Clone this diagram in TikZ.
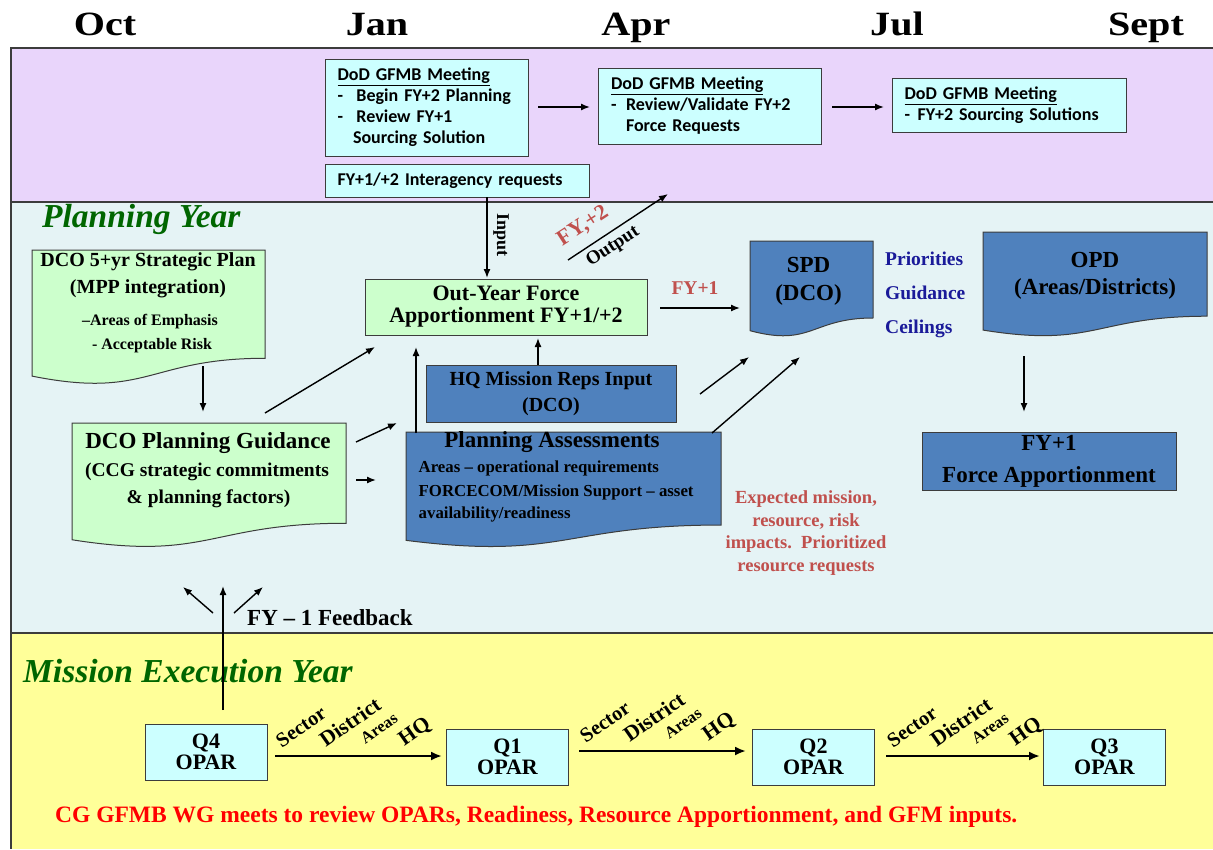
\documentclass[tikz,border=0pt]{standalone}
\usepackage{fontspec}
\setmainfont{Liberation Serif}
\newfontfamily\carl{Carlito}
\usetikzlibrary{arrows.meta}

\definecolor{bandpurple}{RGB}{233,213,251}
\definecolor{bandplan}{RGB}{229,243,245}
\definecolor{bandyellow}{RGB}{255,255,153}
\definecolor{cyanbox}{RGB}{204,255,255}
\definecolor{greenbox}{RGB}{204,255,204}
\definecolor{bluebox}{RGB}{79,129,189}
\definecolor{edge}{RGB}{60,60,60}
\definecolor{titlegreen}{RGB}{0,102,0}
\definecolor{softred}{RGB}{192,80,77}
\definecolor{navytext}{RGB}{26,26,153}
\definecolor{brightred}{RGB}{255,0,0}

\newcommand{\fs}[2]{\fontsize{#1}{#2}\selectfont}
\newcommand{\mydoc}[5]{%
  \filldraw[doc, fill=#5] (#1,#2) -- (#3,#2) -- (#3,{#2+0.802*#4})
    .. controls ({(#1+#3)/2},{#2+0.802*#4}) and ({(#1+#3)/2},{#2+1.107*#4}) ..
    (#1,{#2+0.934*#4}) -- cycle;}
\newcommand{\dsh}[1]{\makebox[#1][l]{-}}
\newcommand{\wide}[1]{\scalebox{1.18}[1]{#1}}

\tikzset{
  arr/.style={-{Latex[length=9pt,width=7pt]}, line width=1.4pt},
  thickarr/.style={-{Latex[length=11pt,width=9pt]}, line width=2.6pt},
  cbox/.style={draw=edge, line width=1pt, fill=cyanbox, font=\carl\bfseries\fs{18}{21},
    align=left, inner xsep=12.5pt, inner ysep=0pt},
  gbox/.style={draw=edge, line width=1pt, fill=greenbox, align=center, inner sep=0pt},
  bbox/.style={draw=edge, line width=1pt, fill=bluebox, align=center, inner sep=0pt},
  doc/.style={draw=edge, line width=1pt},
  qbox/.style={draw=edge, line width=1pt, fill=cyanbox, font=\bfseries\fs{22}{21},
    align=center, minimum width=122pt, minimum height=56pt, inner sep=0pt},
  lbl/.style={font=\bfseries, inner sep=0pt},
  month/.style={font=\bfseries\fs{34}{34}, inner sep=0pt, anchor=base},
  bandtitle/.style={font=\bfseries\itshape\fs{33.5}{33.5}, text=titlegreen, inner sep=0pt, anchor=west},
  slant/.style={font=\bfseries, inner sep=0pt, rotate=35},
}

\begin{document}
\begin{tikzpicture}[x=1pt,y=-1pt]
\useasboundingbox (0,0) rectangle (1213,849);
\fill[white] (0,0) rectangle (1213,849);

% bands
\fill[bandpurple] (11,48) rectangle (1213,202);
\fill[bandplan] (11,202) rectangle (1213,633);
\fill[bandyellow] (11,633) rectangle (1213,849);
\draw[edge, line width=1.2pt] (1213,48) -- (11,48) -- (11,849);
\draw[edge, line width=1.2pt] (11,202) -- (1213,202);
\draw[edge, line width=1.2pt] (11,633) -- (1213,633);

% months
\node[month] (moct) at (105,35) {\wide{Oct}};
\node[month] (mjan) at (377,35) {\wide{Jan}};
\node[month] (mapr) at (636,35) {\wide{Apr}};
\node[month] (mjul) at (897,35) {\wide{Jul}};
\node[month] (msep) at (1146,35) {\wide{Sept}};

% top band boxes
\node[cbox, text width=178pt, minimum height=97pt] (gf1) at (426.5,107.5)
  {\underline{DoD GFMB Meeting}\\ \dsh{19pt}Begin FY+2 Planning\\ \dsh{19pt}Review FY+1\\ \hspace*{15.5pt}Sourcing Solution};
\node[cbox, text width=197.5pt, minimum height=76pt] (gf2) at (709.75,106)
  {\underline{DoD GFMB Meeting}\\ \dsh{15pt}Review/Validate FY+2\\ \hspace*{15pt}Force Requests};
\node[cbox, text width=209pt, minimum height=54pt] (gf3) at (1009,105)
  {\underline{DoD GFMB Meeting}\\ \dsh{13pt}FY+2 Sourcing Solutions};
\node[cbox, text width=239pt, minimum height=33pt] (inter) at (457,180.5)
  {FY+1/+2 Interagency requests};

\coordinate (g12s) at (538,107); \coordinate (g12e) at (590,107);
\coordinate (g23s) at (832,107); \coordinate (g23e) at (884,107);
\draw[arr] (g12s) -- (g12e);
\draw[arr] (g23s) -- (g23e);

% band titles
\node[bandtitle] (py) at (42,219) {Planning Year};
\node[bandtitle] (mey) at (23,671) {Mission Execution Year};

% DCO 5+yr strategic plan
\mydoc{32}{250}{265}{135}{greenbox}
\node[lbl, font=\bfseries\fs{20}{20}] (dcoa) at (148,262) {DCO 5+yr Strategic Plan};
\node[lbl, font=\bfseries\fs{20}{20}] (dcob) at (148,289) {(MPP integration)};
\node[lbl, font=\bfseries\fs{16}{16}] (dcoc) at (150,322) {–Areas of Emphasis};
\node[lbl, font=\bfseries\fs{16}{16}] (dcod) at (152,346) {- Acceptable Risk};

% DCO Planning Guidance
\mydoc{72}{423}{346}{125}{greenbox}
\node[lbl, font=\bfseries\fs{23}{23}] (pga) at (208,443) {DCO Planning Guidance};
\node[lbl, font=\bfseries\fs{19.5}{19.5}] (pgb) at (207,472) {(CCG strategic commitments};
\node[lbl, font=\bfseries\fs{19.5}{19.5}] (pgc) at (208.5,499) {\& planning factors)};

% Out-year force apportionment
\node[gbox, font=\bfseries\fs{22}{22}, minimum width=282pt, minimum height=56pt] (oyfa) at (506,307)
  {Out-Year Force\\ Apportionment FY+1/+2};

% HQ Mission reps
\node[bbox, font=\bfseries\fs{20}{25.5}, minimum width=250pt, minimum height=57pt] (hq) at (551,393.5)
  {HQ Mission Reps Input\\ (DCO)};

% Planning assessments
\mydoc{406}{432}{721}{116}{bluebox}
\node[lbl, font=\bfseries\fs{23}{23}] (paa) at (552,442) {Planning Assessments};
\node[lbl, font=\bfseries\fs{16.8}{16.8}, anchor=west] (pab) at (418.5,468) {Areas – operational requirements};
\node[lbl, font=\bfseries\fs{16.8}{16.8}, anchor=west] (pac) at (418.5,492) {FORCECOM/Mission Support – asset};
\node[lbl, font=\bfseries\fs{16.8}{16.8}, anchor=west] (pad) at (418.5,514) {availability/readiness};

% Expected mission text
\node[lbl, font=\bfseries\fs{18.5}{22.7}, text=softred, align=center] (exp) at (806,533)
  {Expected mission,\\ resource, risk\\ impacts.\ \ Prioritized\\ resource requests};

% SPD
\mydoc{750}{241}{873}{96}{bluebox}
\node[lbl, font=\bfseries\fs{23}{28}, align=center] (spd) at (808.5,281) {SPD\\ (DCO)};
\node[lbl, font=\bfseries\fs{19.5}{19.5}, text=navytext, anchor=west] (prio) at (885,259) {Priorities};
\node[lbl, font=\bfseries\fs{19.5}{19.5}, text=navytext, anchor=west] (guid) at (885,293) {Guidance};
\node[lbl, font=\bfseries\fs{19.5}{19.5}, text=navytext, anchor=west] (ceil) at (885,329) {Ceilings};

% OPD
\mydoc{983}{232}{1207}{105}{bluebox}
\node[lbl, font=\bfseries\fs{23}{27}, align=center] (opd) at (1095,275.5) {OPD\\ (Areas/Districts)};

% FY+1 Force apportionment
\node[bbox, font=\bfseries\fs{23}{32}, minimum width=254pt, minimum height=58pt] (fyfa) at (1049,461)
  {FY+1\\ Force Apportionment};

% planning-band connectors
\coordinate (ins) at (487,197); \coordinate (ine) at (487,278);
\draw[arr] (ins) -- (ine);
\node[lbl, font=\bfseries\fs{18}{18}, rotate=-90] (inlbl) at (501,235) {Input};

\coordinate (outs) at (568,260); \coordinate (oute) at (668,194);
\draw[arr] (outs) -- (oute);
\node[lbl, font=\bfseries\fs{22}{22}, text=softred, rotate=33] (fy2) at (583,226) {FY,+2};
\node[lbl, font=\bfseries\fs{19}{19}, rotate=33] (outlbl) at (613,247) {Output};

\node[lbl, font=\bfseries\fs{19.5}{19.5}, text=softred] (fy1) at (695,288) {FY+1};
\coordinate (fy1s) at (660,308); \coordinate (fy1e) at (740,308);
\draw[arr] (fy1s) -- (fy1e);

\coordinate (d5s) at (203,366); \coordinate (d5e) at (203,412);
\draw[arr] (d5s) -- (d5e);

\coordinate (pgoys) at (265,413); \coordinate (pgoye) at (375,347);
\draw[arr] (pgoys) -- (pgoye);
\coordinate (pghqs) at (356,442); \coordinate (pghqe) at (397,423);
\draw[arr] (pghqs) -- (pghqe);
\coordinate (pgpas) at (356,480); \coordinate (pgpae) at (376,480);
\draw[arr] (pgpas) -- (pgpae);

\coordinate (paoys) at (416,433); \coordinate (paoye) at (416,347);
\draw[arr] (paoys) -- (paoye);
\coordinate (hqoys) at (538,365); \coordinate (hqoye) at (538,338);
\draw[arr] (hqoys) -- (hqoye);

\coordinate (sp1s) at (700,394); \coordinate (sp1e) at (749,357);
\draw[arr] (sp1s) -- (sp1e);
\coordinate (sp2s) at (712,433); \coordinate (sp2e) at (800,357);
\draw[arr] (sp2s) -- (sp2e);

\coordinate (opds) at (1024,356); \coordinate (opde) at (1024,412);
\draw[arr] (opds) -- (opde);

% feedback
\coordinate (fbl1) at (213,613); \coordinate (fbl2) at (183,587);
\coordinate (fbu1) at (223,710); \coordinate (fbu2) at (223,586);
\coordinate (fbr1) at (234,613); \coordinate (fbr2) at (263,587);
\draw[arr] (fbl1) -- (fbl2);
\draw[arr] (fbu1) -- (fbu2);
\draw[arr] (fbr1) -- (fbr2);
\node[lbl, font=\bfseries\fs{23}{23}, anchor=west] (fb) at (247,618) {FY – 1 Feedback};

% quarters
\node[qbox] (q4) at (206,752) {Q4\\ OPAR};
\node[qbox] (q1) at (507.5,757) {Q1\\ OPAR};
\node[qbox] (q2) at (813.5,757) {Q2\\ OPAR};
\node[qbox] (q3) at (1104.5,757) {Q3\\ OPAR};

\coordinate (a1s) at (275,756); \coordinate (a1e) at (442,756);
\coordinate (a2s) at (579,751); \coordinate (a2e) at (746,751);
\coordinate (a3s) at (886,756); \coordinate (a3e) at (1040,756);
\draw[thickarr] (a1s) -- (a1e);
\draw[thickarr] (a2s) -- (a2e);
\draw[thickarr] (a3s) -- (a3e);

\foreach \xo/\yo/\nm in {275/756/ka, 579/751/kb, 886/756/kc}{
  \node[slant, font=\bfseries\fs{20.5}{20.5}] (sec\nm) at (\xo+26,\yo-29) {Sector};
  \node[slant, font=\bfseries\fs{21.5}{21.5}] (dis\nm) at (\xo+75,\yo-34) {District};
  \node[slant, font=\bfseries\fs{16.5}{16.5}] (are\nm) at (\xo+104,\yo-28) {Areas};
  \node[slant, font=\bfseries\fs{21.5}{21.5}] (hqq\nm) at (\xo+140,\yo-24) {HQ};
}

\node[lbl, font=\bfseries\fs{23.5}{23.5}, text=brightred, anchor=west] (cg) at (55,817)
  {CG GFMB WG meets to review OPARs, Readiness, Resource Apportionment, and GFM inputs.};

\end{tikzpicture}
\end{document}
